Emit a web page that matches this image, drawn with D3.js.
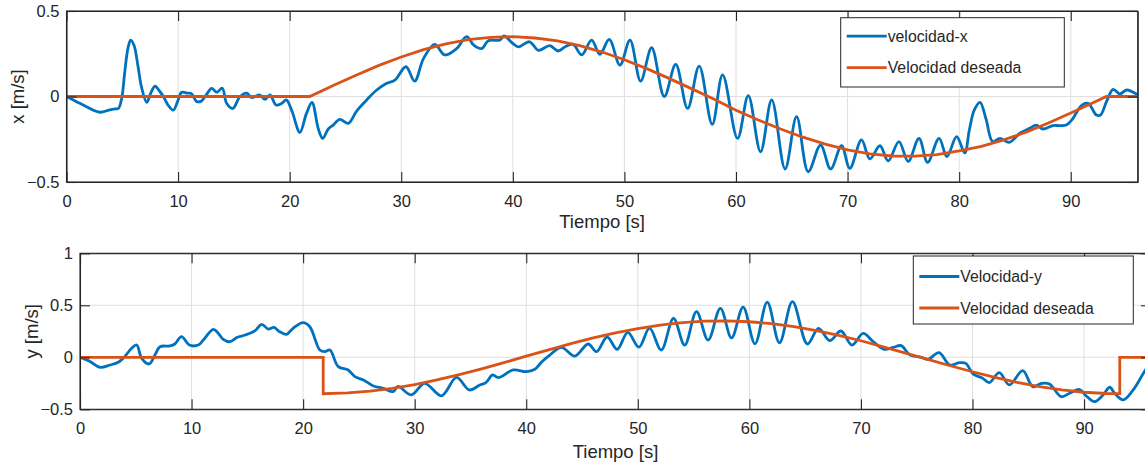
<!DOCTYPE html>
<html>
<head>
<meta charset="utf-8">
<script src="https://cdn.jsdelivr.net/npm/d3@7"></script>
<style>
  body { margin: 0; background: #fff; }
  svg text { font-family: "Liberation Sans", Arial, Helvetica, sans-serif; fill: #262626; }
</style>
</head>
<body>
<svg id="chart" width="1145" height="465"></svg>
<script>
// ---- data ----
var xTicks = [0, 10, 20, 30, 40, 50, 60, 70, 80, 90];
var yTicksTop = [-0.5, 0, 0.5];
var yTicksBottom = [-0.5, 0, 0.5, 1];

// velocidad-x (measured)
var tVelX = [0, 0.9, 1.8, 3.0, 3.8, 4.35, 4.65, 4.95, 5.2, 5.5, 5.75, 6.05, 6.4, 6.74, 7.19, 7.55, 7.93, 8.3, 8.68, 9.1, 9.57,
  9.95, 10.32, 10.8, 11.2, 11.67, 12.1, 12.56, 13.0, 13.46, 13.96, 14.35, 14.9, 15.55, 16.15, 16.6, 17.28, 17.8, 18.24, 18.77, 19.3,
  19.7, 20.2, 20.92, 21.5, 22.0, 22.57, 22.96, 23.46, 23.9, 24.5, 25.25, 26.0, 26.9, 27.8, 28.7, 29.43, 30.42, 31.2, 32.0, 33.0,
  33.9, 34.96, 35.86, 36.5, 37.2, 37.8, 38.85, 39.2, 40.0, 40.5, 41.5, 42.3, 43.3, 44.07, 44.67, 45.4, 46.17, 47.06, 47.8, 48.64,
  49.6, 50.5, 51.45, 52.44, 53.57, 54.6, 55.66, 56.7, 57.87, 58.8, 60.14, 61.1, 62.2, 63.2, 64.4, 65.43, 66.47, 67.58, 68.48, 69.46,
  70.2, 71.25, 72.0, 72.9, 73.64, 74.6, 75.43, 76.4, 77.17, 78.2, 78.9, 79.77, 80.5, 80.9, 81.35, 81.87, 82.4, 83.0, 83.65, 84.5,
  85.44, 86.33, 86.9, 87.5, 88.4, 89.0, 89.6, 90.1, 91.0, 91.56, 92.3, 92.67, 93.2, 93.8, 94.4, 95.0, 96.0];
var vVelX = [0, -0.03, -0.06, -0.092, -0.08, -0.073, -0.07, -0.01, 0.13, 0.28, 0.33, 0.3, 0.18, 0.05, -0.034, 0.02, 0.06, 0.035, 0, -0.05, -0.08,
  -0.03, 0.025, 0.02, 0.017, -0.03, -0.026, 0.013, 0.048, 0.025, 0.048, -0.04, -0.07, 0, 0.02, -0.007, 0.01, -0.017, 0.01, -0.05, -0.04,
  -0.02, -0.085, -0.21, -0.1, -0.035, -0.19, -0.245, -0.19, -0.167, -0.134, -0.157, -0.085, -0.02, 0.038, 0.077, 0.096, 0.174, 0.09, 0.223, 0.305,
  0.243, 0.28, 0.35, 0.3, 0.28, 0.326, 0.33, 0.354, 0.31, 0.29, 0.32, 0.27, 0.297, 0.266, 0.29, 0.305, 0.243, 0.33, 0.247, 0.334,
  0.184, 0.33, 0.09, 0.285, 0, 0.188, -0.07, 0.178, -0.163, 0.126, -0.245, 0.005, -0.323, -0.02, -0.424, -0.118, -0.44, -0.284, -0.424, -0.288,
  -0.42, -0.254, -0.365, -0.288, -0.377, -0.264, -0.38, -0.245, -0.385, -0.245, -0.352, -0.235, -0.33, -0.2, -0.08, -0.034, -0.13, -0.264, -0.245, -0.268,
  -0.215, -0.186, -0.167, -0.19, -0.17, -0.17, -0.167, -0.137, -0.05, -0.04, -0.108, -0.108, -0.03, 0.042, 0.015, 0.038, 0.01];

// velocidad deseada (x)
var tDesX = [0, 21.8, 24, 26, 28, 30, 32, 34, 36, 38, 40, 42, 44, 46, 48, 50, 52, 54, 56, 58, 60, 62, 64, 66, 68, 70,
  72, 74, 76, 78, 80, 82, 84, 86, 88, 90, 92, 93.2, 96];
var vDesX = [0, 0, 0.067, 0.126, 0.182, 0.231, 0.274, 0.308, 0.332, 0.346, 0.35, 0.342, 0.325, 0.297, 0.26, 0.215, 0.163, 0.106, 0.046, -0.015,
  -0.08, -0.137, -0.19, -0.238, -0.279, -0.312, -0.335, -0.348, -0.349, -0.34, -0.318, -0.292, -0.254, -0.208, -0.155, -0.097, -0.037, 0, 0];

// velocidad-y (measured)
var tVelY = [0, 0.9, 1.8, 2.7, 3.43, 4.0, 4.63, 5.08, 5.53, 6.2, 6.72, 7.17, 8.06, 8.5, 9.1, 9.8, 10.6, 11.05, 11.95, 12.4,
  12.84, 13.44, 14.1, 14.8, 15.7, 16.28, 16.87, 17.38, 17.9, 18.52, 19.1, 20.0, 20.6, 21.5, 21.95, 22.4, 23.15, 24.04, 24.64, 25.4,
  26.3, 27.18, 28.07, 28.5, 29.7, 30.9, 32.4, 33.75, 34.9, 35.84, 36.38, 36.98, 37.5, 38.83, 40.0, 40.77, 41.4, 42.11, 43.16, 44.35,
  45.55, 46.3, 47.25, 48.15, 49.1, 50.1, 51.05, 52.1, 53.2, 54.2, 55.26, 56.3, 57.4, 58.4, 59.44, 60.5, 61.6, 62.7, 63.86, 65.2,
  66.2, 67.2, 68.2, 69.2, 70.2, 71.1, 72.1, 72.9, 73.6, 74.4, 75.4, 76.0, 77.0, 77.96, 78.85, 79.4, 80.05, 80.9, 81.5, 82.4,
  83.3, 84.5, 85.4, 86.2, 86.9, 87.96, 88.7, 89.6, 90.2, 90.95, 91.7, 92.3, 92.74, 93.5, 94.4, 95.4, 96.5];
var vVelY = [0, -0.04, -0.096, -0.074, -0.048, 0.006, 0.087, 0.118, -0.01, -0.064, 0.022, 0.102, 0.109, 0.128, 0.198, 0.118, 0.118, 0.166, 0.269, 0.23,
  0.173, 0.15, 0.192, 0.214, 0.256, 0.317, 0.272, 0.288, 0.246, 0.221, 0.279, 0.333, 0.294, 0.07, 0.054, 0.07, -0.09, -0.122, -0.186, -0.218,
  -0.276, -0.298, -0.33, -0.28, -0.362, -0.25, -0.37, -0.193, -0.314, -0.266, -0.244, -0.17, -0.196, -0.122, -0.138, -0.115, -0.042, 0.022, 0.096, 0.012,
  0.128, 0.054, 0.195, 0.077, 0.24, 0.098, 0.28, 0.07, 0.375, 0.118, 0.44, 0.165, 0.47, 0.187, 0.483, 0.13, 0.53, 0.14, 0.535, 0.128,
  0.279, 0.16, 0.253, 0.118, 0.23, 0.15, 0.077, 0.096, 0.112, 0.022, 0, -0.02, 0.045, -0.074, -0.052, -0.058, -0.16, -0.2, -0.244, -0.148,
  -0.266, -0.129, -0.282, -0.25, -0.256, -0.379, -0.346, -0.31, -0.372, -0.427, -0.362, -0.288, -0.346, -0.41, -0.314, -0.138, 0.05];

// velocidad deseada (y)
var tDesY = [0, 21.8, 21.8, 24, 26, 28, 30, 32, 34, 36, 38, 40, 42, 44, 46, 48, 50, 52, 54, 56, 58, 60, 62, 64, 66, 68, 70,
  72, 74, 76, 78, 80, 82, 84, 86, 88, 90, 92, 93.2, 93.2, 96];
var vDesY = [0, 0, -0.35, -0.343, -0.326, -0.299, -0.263, -0.218, -0.167, -0.111, -0.051, 0.011, 0.072, 0.131, 0.186, 0.235, 0.276, 0.31, 0.334, 0.347, 0.35,
  0.342, 0.323, 0.294, 0.257, 0.211, 0.159, 0.101, 0.041, -0.02, -0.081, -0.139, -0.193, -0.24, -0.281, -0.314, -0.336, -0.348, -0.35, 0, 0];

var blue = "#0072BD", orange = "#D95319";
var svg = d3.select("#chart");

function panel(cfg) {
    var x = d3.scaleLinear().domain([0, 96]).range([cfg.left, cfg.right]);
    var y = d3.scaleLinear().domain(cfg.yDomain).range([cfg.bottom, cfg.top]);
    var g = svg.append("g");

    // grid
    g.append("g").selectAll("line.gx")
        .data(xTicks.filter(d => d > 0)).enter().append("line")
        .attr("x1", d => x(d)).attr("x2", d => x(d))
        .attr("y1", cfg.top).attr("y2", cfg.bottom)
        .attr("stroke", "#dfdfdf").attr("stroke-width", 1);
    g.append("g").selectAll("line.gy")
        .data(cfg.yTicks.slice(1, -1)).enter().append("line")
        .attr("x1", cfg.left).attr("x2", cfg.right)
        .attr("y1", d => y(d)).attr("y2", d => y(d))
        .attr("stroke", "#dfdfdf").attr("stroke-width", 1);

    // lines, clipped to the axes box
    var clipId = "clip" + cfg.name;
    svg.append("clipPath").attr("id", clipId).append("rect")
        .attr("x", cfg.left).attr("y", cfg.top)
        .attr("width", cfg.right - cfg.left).attr("height", cfg.bottom - cfg.top);

    var lineMeas = d3.line().x(d => x(d[0])).y(d => y(d[1])).curve(d3.curveCatmullRom.alpha(0.5));
    var lineDes = d3.line().x(d => x(d[0])).y(d => y(d[1]));

    var lg = g.append("g").attr("clip-path", "url(#" + clipId + ")");
    lg.append("path")
        .datum(cfg.tMeas.map((t, i) => [t, cfg.vMeas[i]]))
        .attr("d", lineMeas).attr("fill", "none")
        .attr("stroke", blue).attr("stroke-width", 2.8).attr("stroke-linejoin", "round");
    lg.append("path")
        .datum(cfg.tDes.map((t, i) => [t, cfg.vDes[i]]))
        .attr("d", lineDes).attr("fill", "none")
        .attr("stroke", orange).attr("stroke-width", 2.8);

    // axes with inward ticks on all four sides
    var fmt = d => d3.format("")(d);
    var ax = g.append("g").attr("transform", `translate(0,${cfg.bottom})`)
        .call(d3.axisBottom(x).tickValues(xTicks).tickSizeInner(-10).tickSizeOuter(0).tickPadding(13).tickFormat(fmt));
    var axTop = g.append("g").attr("transform", `translate(0,${cfg.top})`)
        .call(d3.axisTop(x).tickValues(xTicks).tickSizeInner(-10).tickSizeOuter(0).tickFormat(""));
    var ay = g.append("g").attr("transform", `translate(${cfg.left},0)`)
        .call(d3.axisLeft(y).tickValues(cfg.yTicks).tickSizeInner(-10).tickSizeOuter(0).tickPadding(7).tickFormat(fmt));
    var ayR = g.append("g").attr("transform", `translate(${cfg.right},0)`)
        .call(d3.axisRight(y).tickValues(cfg.yTicks).tickSizeInner(-10).tickSizeOuter(0).tickFormat(""));

    [ax, axTop, ay, ayR].forEach(a => {
        a.selectAll("path.domain").attr("stroke", "#262626").attr("stroke-width", 1.1);
        a.selectAll(".tick line").attr("stroke", "#262626").attr("stroke-width", 1.1);
        a.selectAll(".tick text").style("font-size", "16.5px").attr("fill", "#262626");
    });
    // box
    g.append("rect")
        .attr("x", cfg.left).attr("y", cfg.top)
        .attr("width", cfg.right - cfg.left).attr("height", cfg.bottom - cfg.top)
        .attr("fill", "none").attr("stroke", "#262626").attr("stroke-width", 1.1);

    // labels
    g.append("text")
        .attr("x", (cfg.left + cfg.right) / 2).attr("y", cfg.xLabelY)
        .attr("text-anchor", "middle").style("font-size", "18.5px")
        .text("Tiempo [s]");
    g.append("text")
        .attr("transform", `translate(${cfg.yLabelX},${(cfg.top + cfg.bottom) / 2}) rotate(-90)`)
        .attr("text-anchor", "middle").style("font-size", "18.5px")
        .text(cfg.yLabel);

    // legend
    var L = cfg.legend;
    var leg = g.append("g");
    leg.append("rect")
        .attr("x", L.x).attr("y", L.y).attr("width", L.w).attr("height", L.h)
        .attr("fill", "#fff").attr("stroke", "#262626").attr("stroke-width", 1);
    var rows = [[cfg.measName, blue], ["Velocidad deseada", orange]];
    rows.forEach((r, i) => {
        var cy = L.y + L.row0 + i * L.rowGap;
        leg.append("line")
            .attr("x1", L.x + 6).attr("x2", L.x + 46)
            .attr("y1", cy).attr("y2", cy)
            .attr("stroke", r[1]).attr("stroke-width", 2.8);
        leg.append("text")
            .attr("x", L.x + 47).attr("y", cy).attr("dy", "0.35em")
            .style("font-size", "15.8px")
            .text(r[0]);
    });
}

panel({
    name: "top", left: 66.5, right: 1137.7, top: 11, bottom: 182,
    yDomain: [-0.5, 0.5], yTicks: yTicksTop,
    tMeas: tVelX, vMeas: vVelX, tDes: tDesX, vDes: vDesX,
    xLabelY: 228, yLabelX: 23.5, yLabel: "x [m/s]", measName: "velocidad-x",
    legend: {x: 840.7, y: 17.7, w: 223.6, h: 69.3, row0: 18.5, rowGap: 31.5}
});

panel({
    name: "bottom", left: 80, right: 1151, top: 253.3, bottom: 409.3,
    yDomain: [-0.5, 1], yTicks: yTicksBottom,
    tMeas: tVelY, vMeas: vVelY, tDes: tDesY, vDes: vDesY,
    xLabelY: 458, yLabelX: 37.5, yLabel: "y [m/s]", measName: "Velocidad-y",
    legend: {x: 913.3, y: 256, w: 220, h: 68, row0: 20.5, rowGap: 31.5}
});
</script>
</body>
</html>
